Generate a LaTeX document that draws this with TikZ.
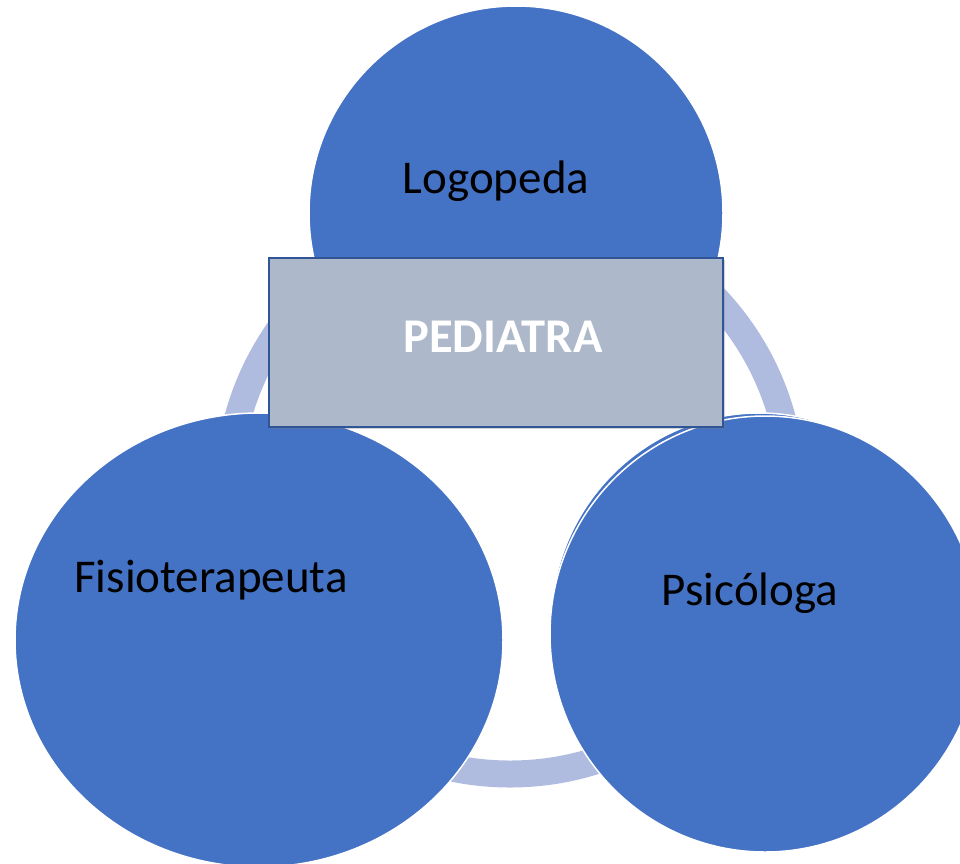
\documentclass[tikz,border=0pt]{standalone}
\usepackage{fontspec}
\setmainfont{Carlito}
\usetikzlibrary{shapes.geometric,shadows}
\definecolor{bubble}{HTML}{4472C4}
\definecolor{ringblue}{HTML}{B0BBE0}
\definecolor{boxgrey}{HTML}{ADB9CA}
\definecolor{boxline}{HTML}{2F5597}

\begin{document}
\begin{tikzpicture}[x=1pt, y=-1pt,
    bubble/.style={ellipse, fill=bubble, draw=white, line width=1.5pt, inner sep=0pt},
    word/.style={anchor=base, inner sep=0pt, font=\fontsize{47}{50}\selectfont}]
    \useasboundingbox (0,0) rectangle (960,863);

    \node[draw=ringblue, line width=27pt, circle, minimum size=564pt] (ring) at (510,492) {};

    \node[bubble, minimum width=414pt, minimum height=414pt] (logo) at (516,213) {};
    \node[bubble, minimum width=416pt, minimum height=422pt] (back) at (759,624) {};
    \node[bubble, minimum width=430pt, minimum height=436pt] (psico) at (765,634) {};
    \node[bubble, minimum width=488pt, minimum height=454pt] (fisio) at (259,640) {};

    \node[fill=boxgrey, draw=boxline, line width=2pt,
        minimum width=454pt, minimum height=169pt,
        drop shadow={shadow xshift=2pt, shadow yshift=-2pt, opacity=0.35}] (pedi) at (496,342.5) {};

    \node[word] at (496,193) {Logopeda};
    \node[word] at (211,592) {Fisioterapeuta};
    \node[word] at (750,605) {Psicóloga};
    \node[word, text=white, font=\fontsize{48.5}{50}\selectfont] at (503,352) {\bfseries PEDIATRA};
\end{tikzpicture}
\end{document}
